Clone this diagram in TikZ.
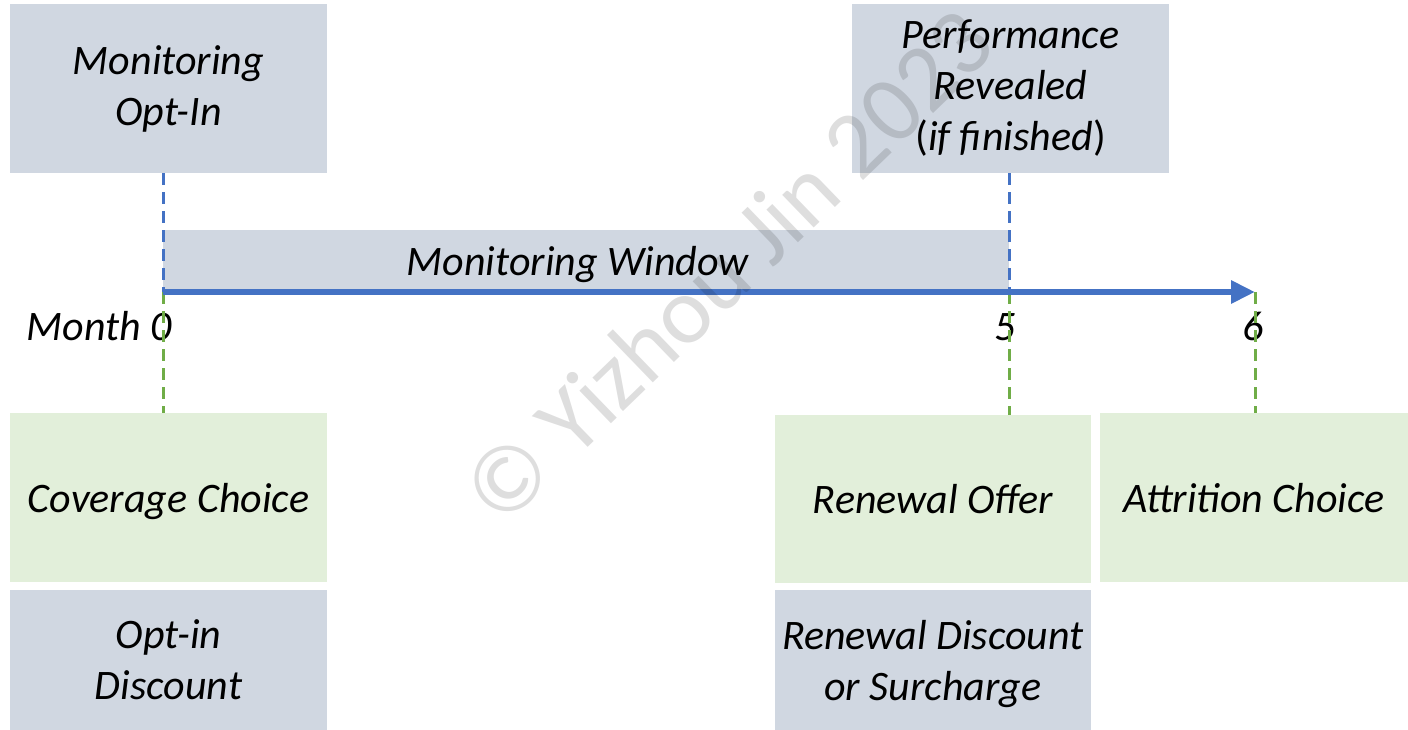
\documentclass[tikz,border=0pt]{standalone}
\usepackage{fontspec}
\setmainfont{Carlito}
\usetikzlibrary{arrows.meta}
\definecolor{boxgray}{HTML}{D0D7E1}
\definecolor{boxgreen}{HTML}{E2EFDA}
\definecolor{axisblue}{HTML}{4472C4}
\definecolor{dashgreen}{HTML}{70AD47}
\begin{document}
\begin{tikzpicture}[x=1pt,y=-1pt,
  lbl/.style={font=\fontsize{42}{51}\selectfont\itshape, align=center},
  graybox/.style={lbl, fill=boxgray, draw=none, inner sep=0pt},
  greenbox/.style={lbl, fill=boxgreen, draw=none, inner sep=0pt, text depth=0pt},
  bluedash/.style={draw=axisblue, line width=3pt, dash pattern=on 12pt off 7pt},
  greendash/.style={draw=dashgreen, line width=3pt, dash pattern=on 12pt off 7pt},
  axisline/.style={draw=axisblue, line width=6pt, -{Triangle[length=24pt,width=22pt]}},
  wmark/.style={font=\fontsize{95}{95}\selectfont, text=black, text opacity=0.13}]
\useasboundingbox (0,0) rectangle (1408,730);

% top boxes
\node[graybox, minimum width=317pt, minimum height=169pt] (optin) at (168.5,88.5) {Monitoring\\Opt-In};
\node[graybox, minimum width=317pt, minimum height=169pt] (perf) at (1010.5,88.5) {Performance\\Revealed\\\textup{(}if finished\textup{)}};

% monitoring window bar
\node[graybox, minimum width=846pt, minimum height=60pt] (win) at (586,260) {};
\node[lbl, anchor=base] (wintext) at (578,275) {Monitoring Window};

% time points
\coordinate (t0) at (163,292);
\coordinate (t5) at (1009,292);
\coordinate (t6) at (1255,292);

% month labels
\node[lbl, anchor=base east, inner sep=0pt] (m0) at (172,340) {Month 0};
\node[lbl, anchor=base, inner sep=0pt] (m5) at (1005,340) {5};
\node[lbl, anchor=base, inner sep=0pt] (m6) at (1253,340) {6};

% bottom boxes
\node[greenbox, minimum width=317pt, minimum height=169pt] (cov) at (168.5,497.5) {Coverage Choice};
\node[greenbox, minimum width=316pt, minimum height=168pt] (renew) at (933,499) {Renewal Offer};
\node[greenbox, minimum width=308pt, minimum height=169pt] (attr) at (1254,497.5) {Attrition Choice};
\node[graybox, minimum width=317pt, minimum height=140pt, text depth=-4pt] (optdisc) at (168.5,660) {Opt-in\\Discount};
\node[graybox, minimum width=316pt, minimum height=140pt, text depth=-4pt] (rendisc) at (933,660) {Renewal Discount\\or Surcharge};

% dashed guides
\draw[bluedash] (t0 |- optin.south) -- (t0);
\draw[bluedash] (t5 |- perf.south) -- (t5);
\draw[greendash] (t0) -- (t0 |- cov.north);
\draw[greendash] (t5) -- (t5 |- renew.north);
\draw[greendash] (t6) -- (t6 |- attr.north);

% time axis
\draw[axisline] (t0) -- (t6);

% watermark
\node[wmark, rotate=44] (wm) at (728,266) {© Yizhou Jin 2023};
\end{tikzpicture}
\end{document}
